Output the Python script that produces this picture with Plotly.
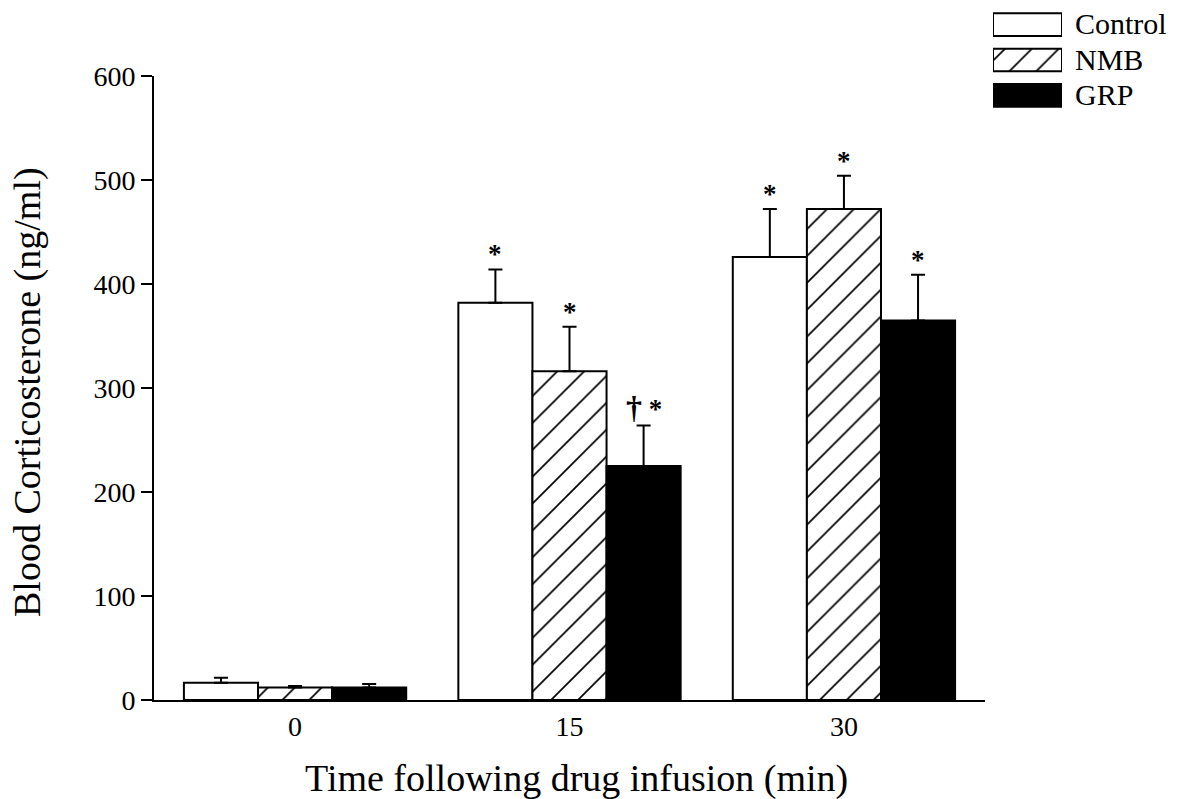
import plotly.graph_objects as go

# ---- data ----
times = ["0", "15", "30"]
groups = ["Control", "NMB", "GRP"]
control = [16.5, 382, 426]
control_err = [5, 32, 46]
nmb = [12, 316, 472]
nmb_err = [1.5, 43, 32]
grp = [12, 225, 365]
grp_err = [3.5, 39, 44]
marks = {  # significance markers per series per time
    "Control": ["", "*", "*"],
    "NMB": ["", "*", "*"],
    "GRP": ["", "<span style='font-size:32px'>†</span> *", "*"],
}

values = [control, nmb, grp]
errors = [control_err, nmb_err, grp_err]
fills = ["white", "white", "black"]
patterns = [None, "/", None]

FONT = "Liberation Serif, Times New Roman, serif"
W, H = 1177, 799
L, B = 154, 99
plot_w = W - L
plot_h = H - B
main_right = 985
main_top = 76

bargap = 0.19
bw = (1 - bargap) / 3
xs = list(range(len(times)))


def px_x(px):
    return (px - L) / plot_w


def px_y(py):
    return (plot_h - py) / plot_h


def make_marker(j):
    m = dict(color=fills[j], line=dict(color="black", width=2))
    if patterns[j]:
        m["pattern"] = dict(shape=patterns[j], fgcolor="black", bgcolor="white",
                            fgopacity=1, size=19, solidity=0.09, fillmode="replace")
    return m


fig = go.Figure()
for j, (name, v, e) in enumerate(zip(groups, values, errors)):
    fig.add_trace(go.Bar(
        x=xs, y=v, name=name, marker=make_marker(j), showlegend=False,
        error_y=dict(type="data", array=e, arrayminus=[0] * len(e), symmetric=False,
                     color="black", thickness=2, width=7),
        xaxis="x", yaxis="y",
    ))
    # legend swatch on hidden axes
    fig.add_trace(go.Bar(
        x=[1], y=[j], orientation="h", marker=make_marker(j), width=0.64, showlegend=False,
        xaxis="x2", yaxis="y2", hoverinfo="skip",
    ))
    fig.add_annotation(x=1, y=j, xref="x2", yref="y2", text=name, showarrow=False,
                       xanchor="left", xshift=11, yshift=1,
                       font=dict(family=FONT, size=30, color="black"))
    for i in xs:
        t = marks[name][i]
        if t:
            fig.add_annotation(x=i + (j - 1) * bw, y=v[i] + e[i], xref="x", yref="y",
                               text="<b>" + t + "</b>", showarrow=False, yanchor="bottom",
                               yshift=-2, font=dict(family=FONT, size=27, color="black"))

# axis titles as annotations for exact placement
fig.add_annotation(x=px_x((305 + 848) / 2), y=px_y(779), xref="paper", yref="paper",
                   xanchor="center", yanchor="middle", showarrow=False,
                   text="Time following drug infusion (min)",
                   font=dict(family=FONT, size=38, color="black"))
fig.add_annotation(x=px_x(27), y=px_y(392), xref="paper", yref="paper",
                   xanchor="center", yanchor="middle", showarrow=False, textangle=-90,
                   text="Blood Corticosterone (ng/ml)",
                   font=dict(family=FONT, size=38, color="black"))

fig.update_layout(
    width=W, height=H,
    margin=dict(l=L, r=0, t=0, b=B, autoexpand=False),
    paper_bgcolor="white", plot_bgcolor="white",
    barmode="group", bargap=bargap, bargroupgap=0,
    font=dict(family=FONT, color="black"),
    xaxis=dict(domain=[0, px_x(main_right)], range=[-0.514, 2.514],
               tickmode="array", tickvals=xs, ticktext=times, ticks="",
               showline=True, linecolor="black", linewidth=2, showgrid=False, zeroline=False,
               tickfont=dict(family=FONT, size=28), automargin=False),
    yaxis=dict(domain=[0, px_y(main_top)], range=[0, 600],
               tickvals=[0, 100, 200, 300, 400, 500, 600],
               ticks="outside", ticklen=11, tickwidth=2, tickcolor="black",
               showline=True, linecolor="black", linewidth=2, showgrid=False, zeroline=False,
               tickfont=dict(family=FONT, size=28), automargin=False),
    xaxis2=dict(domain=[px_x(993), px_x(1062)], range=[0, 1],
                visible=False, anchor="y2", automargin=False),
    yaxis2=dict(domain=[px_y(113), px_y(7)], range=[2.5, -0.5],
                visible=False, anchor="x2", automargin=False),
)

fig.write_html("out.html")
